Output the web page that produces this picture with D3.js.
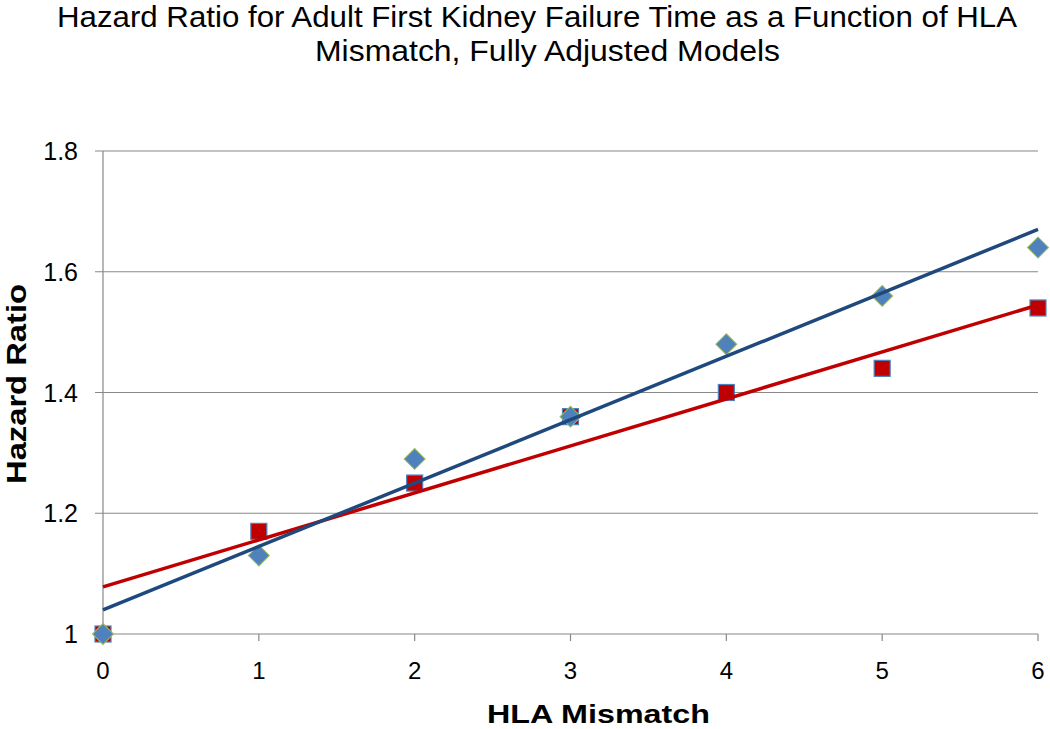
<!DOCTYPE html>
<html><head><meta charset="utf-8">
<script src="https://cdn.jsdelivr.net/npm/d3@7"></script>
<style>body{margin:0;background:#fff}svg{display:block}</style>
</head><body><svg id="c" width="1050" height="729"></svg>
<script>
const xCats = [0,1,2,3,4,5,6];
const blueValues = [1.00,1.13,1.29,1.36,1.48,1.56,1.64];
const redValues  = [1.00,1.17,1.25,1.36,1.40,1.44,1.54];
const blueTrend = [1.04,1.67];   // at x=0 and x=6
const redTrend  = [1.078,1.545];
const yTicks = [1,1.2,1.4,1.6,1.8];
const yTickLabels = ["1","1.2","1.4","1.6","1.8"];
const titleLines = ["Hazard Ratio for Adult First Kidney Failure Time as a Function of HLA","Mismatch, Fully Adjusted Models"];
const xTitle = "HLA Mismatch", yTitle = "Hazard Ratio";

const svg = d3.select("#c");
const x = d3.scaleLinear().domain([0,6]).range([103,1038]);
const y = d3.scaleLinear().domain([1,1.8]).range([634,151]);
const font = "'Liberation Sans', Arial, sans-serif";

// gridlines
svg.append("g").selectAll("line").data(yTicks).join("line")
  .attr("x1",95).attr("x2",x(6)).attr("y1",d=>y(d)).attr("y2",d=>y(d))
  .attr("stroke","#888").attr("stroke-width",1.2);
// y axis line
svg.append("line").attr("x1",x(0)).attr("x2",x(0)).attr("y1",y(1.8)).attr("y2",y(1))
  .attr("stroke","#888").attr("stroke-width",1.2);
// x ticks
svg.append("g").selectAll("line").data(xCats).join("line")
  .attr("x1",d=>x(d)).attr("x2",d=>x(d)).attr("y1",y(1)).attr("y2",y(1)+7)
  .attr("stroke","#888").attr("stroke-width",1.2);

// tick labels
svg.append("g").selectAll("text").data(yTicks).join("text")
  .attr("x",78).attr("y",d=>y(d)+9).attr("text-anchor","end")
  .attr("font-family",font).attr("font-size",25).attr("fill","#000")
  .text((d,i)=>yTickLabels[i]);
svg.append("g").selectAll("text").data(xCats).join("text")
  .attr("x",d=>x(d)).attr("y",679).attr("text-anchor","middle")
  .attr("font-family",font).attr("font-size",24).attr("fill","#000")
  .text(d=>d);

// markers: squares
svg.append("g").selectAll("rect").data(xCats).join("rect")
  .attr("x",d=>x(d)-8).attr("y",(d,i)=>y(redValues[i])-8).attr("width",16).attr("height",16)
  .attr("fill","#C00000").attr("stroke","#4F81BD").attr("stroke-width",1.2);
// diamonds
const diamond = d3.symbol().type(d3.symbolSquare).size(220);
svg.append("g").selectAll("path").data(xCats).join("path")
  .attr("d",diamond)
  .attr("transform",(d,i)=>`translate(${x(d)},${y(blueValues[i])}) rotate(45)`)
  .attr("fill","#4F81BD").attr("stroke","#9BBB59").attr("stroke-width",1);

// trendlines
const line = d3.line().x(d=>x(d[0])).y(d=>y(d[1]));
svg.append("path").datum([[0,redTrend[0]],[6,redTrend[1]]]).attr("d",line)
  .attr("stroke","#C00000").attr("stroke-width",3.5).attr("fill","none");
svg.append("path").datum([[0,blueTrend[0]],[6,blueTrend[1]]]).attr("d",line)
  .attr("stroke","#1F497D").attr("stroke-width",3.5).attr("fill","none");

// titles
const tl = [{x:57,w:960,y:27},{x:315,w:465,y:61}];
svg.append("g").selectAll("text").data(titleLines).join("text")
  .attr("x",(d,i)=>tl[i].x).attr("y",(d,i)=>tl[i].y).attr("text-anchor","start")
  .attr("font-family","'Liberation Sans Narrow', 'Liberation Sans', Arial, sans-serif")
  .attr("font-size",29).attr("fill","#000")
  .attr("textLength",(d,i)=>tl[i].w).attr("lengthAdjust","spacingAndGlyphs")
  .text(d=>d);
svg.append("text").attr("x",487).attr("y",723).attr("text-anchor","start")
  .attr("font-family",font).attr("font-weight","bold").attr("font-size",26)
  .attr("textLength",223).attr("lengthAdjust","spacingAndGlyphs").text(xTitle);
svg.append("text").attr("transform","translate(26,384) rotate(-90)").attr("text-anchor","middle")
  .attr("font-family",font).attr("font-weight","bold").attr("font-size",27)
  .attr("textLength",200).attr("lengthAdjust","spacingAndGlyphs").text(yTitle);
</script></body></html>
